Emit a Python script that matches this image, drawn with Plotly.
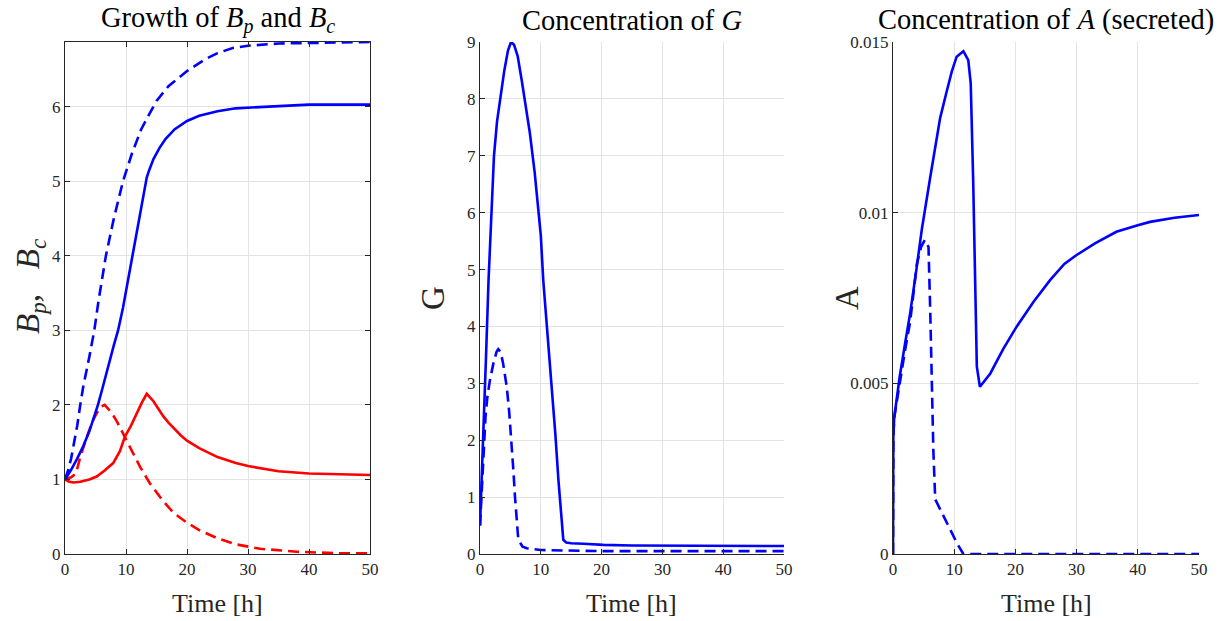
import plotly.graph_objects as go

# ---------------- data ----------------
# Panel 1: growth of Bp (solid) and Bc (dashed)
t_bp_blue = [0, 1, 2, 3, 4, 5, 5.4, 6, 7, 8, 8.7, 9.5, 10.5, 11.5, 12.5, 13.0, 13.4, 13.8, 14.5, 15.5, 16.5, 18, 20, 22, 25, 28, 32, 36, 40, 45, 50]
v_bp_blue = [1.0, 1.13, 1.28, 1.45, 1.65, 1.88, 2.0, 2.18, 2.5, 2.8, 3.0, 3.3, 3.75, 4.2, 4.65, 4.88, 5.05, 5.15, 5.3, 5.45, 5.57, 5.7, 5.81, 5.88, 5.94, 5.98, 6.0, 6.02, 6.03, 6.03, 6.03]

t_bc_blue = [0, 0.5, 1, 1.5, 2, 2.5, 3, 4, 4.8, 5.5, 6.7, 8, 9.5, 11, 12.5, 14, 15, 17, 20, 23, 25, 27.5, 30, 35, 40, 45, 50]
v_bc_blue = [1.0, 1.12, 1.28, 1.48, 1.72, 2.0, 2.25, 2.65, 3.0, 3.4, 4.0, 4.5, 5.0, 5.38, 5.7, 5.93, 6.08, 6.28, 6.48, 6.64, 6.72, 6.79, 6.82, 6.85, 6.86, 6.87, 6.87]

t_bp_red = [0, 0.7, 1.4, 2.5, 4, 5.2, 6.5, 7.9, 9, 9.8, 10.8, 11.75, 12.6, 13.4, 14.0, 14.5, 15.3, 16.1, 17, 18, 19, 20, 22, 25, 28, 30, 35, 40, 45, 50]
v_bp_red = [1.0, 0.97, 0.96, 0.97, 1.0, 1.04, 1.12, 1.22, 1.38, 1.57, 1.72, 1.89, 2.03, 2.15, 2.1, 2.05, 1.95, 1.85, 1.76, 1.67, 1.59, 1.52, 1.42, 1.3, 1.22, 1.18, 1.11, 1.08, 1.065, 1.06]

t_bc_red = [0, 1, 1.8, 2.5, 3.5, 4.5, 5.2, 6, 6.5, 7.6, 8.5, 9.8, 11, 12.3, 13.9, 16, 17.8, 20, 22, 25, 28, 32, 38, 45, 50]
v_bc_red = [1.0, 1.03, 1.08, 1.3, 1.55, 1.78, 1.89, 1.98, 2.0, 1.9, 1.78, 1.57, 1.38, 1.17, 0.95, 0.72, 0.55, 0.42, 0.32, 0.21, 0.13, 0.07, 0.03, 0.01, 0.01]

# Panel 2: concentration of G
t_g_solid = [0, 0.3, 0.55, 1, 1.4, 1.9, 2.3, 2.8, 3.3, 4, 4.6, 5.1, 5.6, 6.2, 6.9, 7.5, 8.2, 9, 9.5, 10, 10.4, 11, 11.8, 12.4, 12.9, 13.3, 13.7, 14.2, 15, 17, 20.3, 25, 30, 40, 50]
v_g_solid = [0.5, 1.3, 2.0, 3.5, 4.8, 6.2, 7.0, 7.6, 8.0, 8.5, 8.85, 9.0, 8.95, 8.75, 8.3, 7.9, 7.4, 6.7, 6.2, 5.6, 4.82, 4.0, 3.06, 2.1, 1.3, 0.7, 0.25, 0.2, 0.19, 0.18, 0.16, 0.15, 0.15, 0.14, 0.14]

t_g_dash = [0, 0.3, 0.55, 0.9, 1.2, 1.64, 2.2, 2.74, 3.0, 3.4, 3.8, 4.4, 4.8, 5.2, 5.5, 5.76, 6.0, 6.3, 7.0, 7.7, 10, 15, 20, 30, 40, 50]
v_g_dash = [0.5, 1.2, 1.77, 2.4, 2.75, 3.06, 3.35, 3.56, 3.6, 3.55, 3.35, 2.94, 2.5, 1.95, 1.45, 1.0, 0.6, 0.25, 0.13, 0.1, 0.07, 0.06, 0.05, 0.05, 0.05, 0.05]

# Panel 3: concentration of A (secreted)
t_a_solid = [0, 0.02, 0.05, 0.2, 0.6, 1.1, 2.0, 2.8, 3.8, 4.7, 6.05, 7.7, 8.7, 9.6, 10.4, 11.5, 12.3, 12.7, 13.1, 13.4, 13.7, 14.2, 15.0, 15.9, 18, 20.2, 23, 25.7, 28, 30, 33, 36.5, 40, 42, 46, 50]
v_a_solid = [0, 0.0025, 0.0034, 0.0040, 0.0046, 0.0052, 0.0062, 0.00705, 0.0083, 0.0095, 0.011, 0.01277, 0.0135, 0.01413, 0.01457, 0.01473, 0.01447, 0.01379, 0.01096, 0.008, 0.00549, 0.0049, 0.0051, 0.00529, 0.006, 0.00666, 0.0074, 0.00803, 0.0085, 0.00876, 0.0091, 0.00944, 0.00963, 0.00973, 0.00985, 0.00993]

t_a_dash = [0, 0.02, 0.05, 0.2, 0.6, 1.1, 2.0, 2.8, 3.9, 4.6, 5.2, 5.8, 6.1, 6.3, 6.6, 6.9, 8, 9.3, 10.5, 11.5, 15, 20, 30, 40, 50]
v_a_dash = [0, 0.0025, 0.0034, 0.0040, 0.0045, 0.005, 0.006, 0.0068, 0.0085, 0.009, 0.0092, 0.009, 0.007, 0.0051, 0.003, 0.0016, 0.0012, 0.0007, 0.0003, 0.0, 0, 0, 0, 0, 0]

x_ticks = [0, 10, 20, 30, 40, 50]
y1_ticks = [0, 1, 2, 3, 4, 5, 6]
y2_ticks = [0, 1, 2, 3, 4, 5, 6, 7, 8, 9]
y3_ticks = [0, 0.005, 0.01, 0.015]
y3_labels = ["0", "0.005", "0.01", "0.015"]

# ---------------- figure ----------------
BLUE = "#0000ff"
RED = "#ff0000"
LW = 2.6
DASH = "11px,6px"
FONT = "Liberation Serif"
AX = "#262626"

fig = go.Figure()

def add(x, y, color, dash, xa, ya):
    fig.add_trace(go.Scatter(x=x, y=y, mode="lines",
                             line=dict(color=color, width=LW, dash=dash),
                             xaxis=xa, yaxis=ya, showlegend=False,
                             hoverinfo="skip"))

add(t_bp_red, v_bp_red, RED, "solid", "x", "y")
add(t_bc_red, v_bc_red, RED, DASH, "x", "y")
add(t_bp_blue, v_bp_blue, BLUE, "solid", "x", "y")
add(t_bc_blue, v_bc_blue, BLUE, DASH, "x", "y")
add(t_g_solid, v_g_solid, BLUE, "solid", "x2", "y2")
add(t_g_dash, v_g_dash, BLUE, DASH, "x2", "y2")
add(t_a_solid, v_a_solid, BLUE, "solid", "x3", "y3")
add(t_a_dash, v_a_dash, BLUE, DASH, "x3", "y3")

# body margin is removed by the post script, so the figure fills the page
W, H = 1227, 621
def fx(px):
    return px / W
def fy(py):
    return 1 - py / H

ytop, ybot = fy(42), fy(554)
doms = [(fx(65), fx(370)), (fx(480), fx(784)), (fx(893), fx(1199))]

common_axis = dict(
    showline=True, linecolor=AX, linewidth=1,
    ticks="inside", ticklen=5, tickcolor=AX, tickwidth=1,
    showgrid=True, gridcolor="#e3e3e3", gridwidth=1,
    zeroline=False, automargin=False,
    tickfont=dict(family=FONT, size=17, color=AX),
)

layout = dict(
    width=W, height=H,
    margin=dict(l=0, r=0, t=0, b=0, autoexpand=False),
    paper_bgcolor="white", plot_bgcolor="white",
    showlegend=False,
)

for i, (d, mirror) in enumerate(zip(doms, ["ticks", False, False])):
    sfx = "" if i == 0 else str(i + 1)
    layout["xaxis" + sfx] = dict(common_axis, domain=list(d), range=[0, 50],
                                 tickvals=x_ticks, anchor="y" + sfx, mirror=mirror)

layout["yaxis"] = dict(common_axis, domain=[ybot, ytop], range=[0, 6.87],
                       tickvals=y1_ticks, anchor="x", mirror="ticks")
layout["yaxis2"] = dict(common_axis, domain=[ybot, ytop], range=[0, 9],
                        tickvals=y2_ticks, anchor="x2")
layout["yaxis3"] = dict(common_axis, domain=[ybot, ytop], range=[0, 0.015],
                        tickvals=y3_ticks, ticktext=y3_labels, anchor="x3")

titles = ["Growth of <i>B</i><sub><i>p</i></sub> and <i>B</i><sub><i>c</i></sub>",
          "Concentration of <i>G</i>",
          "Concentration of <i>A</i> (secreted)"]
ytitles = ["<i>B</i><sub><i>p</i></sub><i>,</i>&nbsp;&nbsp;&nbsp;<i>B</i><sub><i>c</i></sub>", "G", "A"]
ytitle_x = [30, 433, 847]
ytitle_y = [287, 298, 298]

anns = []
for d, t in zip(doms, titles):
    anns.append(dict(text=t, x=(d[0] + d[1]) / 2, y=fy(20), xref="paper", yref="paper",
                     xanchor="center", yanchor="middle", showarrow=False,
                     font=dict(family=FONT, size=28.5, color="black")))
for d in doms:
    anns.append(dict(text="Time [h]", x=(d[0] + d[1]) / 2, y=fy(603), xref="paper", yref="paper",
                     xanchor="center", yanchor="middle", showarrow=False,
                     font=dict(family=FONT, size=26, color=AX)))
for xp, yp, t in zip(ytitle_x, ytitle_y, ytitles):
    anns.append(dict(text=t, x=fx(xp), y=fy(yp), xref="paper", yref="paper",
                     xanchor="center", yanchor="middle", showarrow=False, textangle=-90,
                     font=dict(family=FONT, size=33, color=AX)))
layout["annotations"] = anns

fig.update_layout(**layout)
fig.write_html("out.html",
               config={"displayModeBar": False, "staticPlot": True},
               post_script="document.body.style.margin='0';document.body.style.overflow='hidden';")
